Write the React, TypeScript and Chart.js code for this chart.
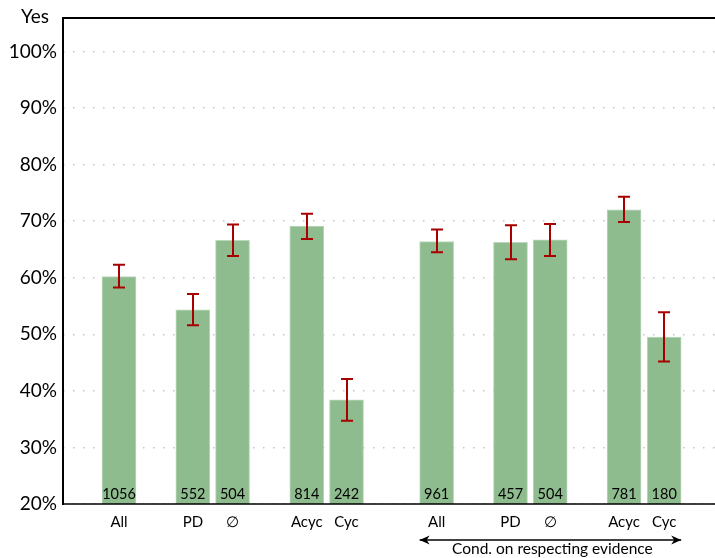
import { useEffect, useRef } from 'react';
import { Chart, registerables } from 'chart.js';

Chart.register(...registerables);

const categories = ['All', 'PD', '∅', 'Acyc', 'Cyc', 'All', 'PD', '∅', 'Acyc', 'Cyc'];
const positions = [0, 1.86, 2.86, 4.73, 5.73, 8.0, 9.86, 10.86, 12.72, 13.73];
const values = [60.2, 54.3, 66.6, 69.1, 38.4, 66.4, 66.25, 66.7, 72.0, 49.5];
const errLow = [58.25, 51.6, 63.85, 66.85, 34.7, 64.5, 63.25, 63.85, 69.85, 45.2];
const errHigh = [62.3, 57.1, 69.4, 71.3, 42.1, 68.5, 69.25, 69.5, 74.3, 53.9];
const counts = [1056, 552, 504, 814, 242, 961, 457, 504, 781, 180];
const yTicks = [20, 30, 40, 50, 60, 70, 80, 90, 100];
const yLabel = 'Yes';
const bracketLabel = 'Cond. on respecting evidence';
const bracketFrom = 5;
const bracketTo = 9;

const FONT = 'Lato, "DejaVu Sans", sans-serif';

const overlay = {
  id: 'overlay',
  afterDatasetsDraw(chart: any) {
    const { ctx, chartArea, scales } = chart;
    const x = scales.x;
    const y = scales.y;
    ctx.save();

    // error bars
    ctx.strokeStyle = '#a80000';
    ctx.lineWidth = 2;
    positions.forEach((p, i) => {
      const px = Math.round(x.getPixelForValue(p));
      const yt = y.getPixelForValue(errHigh[i]);
      const yb = y.getPixelForValue(errLow[i]);
      ctx.beginPath();
      ctx.moveTo(px, yt);
      ctx.lineTo(px, yb);
      ctx.moveTo(px - 6, yt);
      ctx.lineTo(px + 6, yt);
      ctx.moveTo(px - 6, yb);
      ctx.lineTo(px + 6, yb);
      ctx.stroke();
    });

    // counts inside bars
    ctx.fillStyle = '#000';
    ctx.font = '14.5px ' + FONT;
    ctx.textAlign = 'center';
    ctx.textBaseline = 'alphabetic';
    positions.forEach((p, i) => {
      ctx.fillText(String(counts[i]), x.getPixelForValue(p), chartArea.bottom - 5);
    });

    // axis lines
    ctx.strokeStyle = '#000';
    ctx.lineWidth = 2;
    ctx.beginPath();
    ctx.moveTo(chartArea.left, chartArea.bottom + 1);
    ctx.lineTo(chartArea.left, chartArea.top);
    ctx.lineTo(chartArea.right, chartArea.top);
    ctx.stroke();
    ctx.lineWidth = 1.5;
    ctx.beginPath();
    ctx.moveTo(chartArea.left, chartArea.bottom);
    ctx.lineTo(chartArea.right, chartArea.bottom);
    ctx.stroke();

    // y label
    ctx.font = '19px ' + FONT;
    ctx.textAlign = 'center';
    ctx.textBaseline = 'alphabetic';
    ctx.fillText(yLabel, 35, 23);

    // bracket arrow
    const xl = x.getPixelForValue(positions[bracketFrom]) - 17;
    const xr = x.getPixelForValue(positions[bracketTo]) + 17;
    const ay = 540;
    ctx.lineWidth = 1.3;
    ctx.beginPath();
    ctx.moveTo(xl, ay);
    ctx.lineTo(xr, ay);
    ctx.stroke();
    ctx.beginPath();
    ctx.moveTo(xl, ay);
    ctx.lineTo(xl + 10, ay - 4.5);
    ctx.lineTo(xl + 7, ay);
    ctx.lineTo(xl + 10, ay + 4.5);
    ctx.closePath();
    ctx.moveTo(xr, ay);
    ctx.lineTo(xr - 10, ay - 4.5);
    ctx.lineTo(xr - 7, ay);
    ctx.lineTo(xr - 10, ay + 4.5);
    ctx.closePath();
    ctx.fill();
    ctx.font = '15.5px ' + FONT;
    ctx.fillText(bracketLabel, (xl + xr) / 2 + 2, 554);

    ctx.restore();
  },
};

export default function App() {
  const ref = useRef<HTMLCanvasElement | null>(null);
  useEffect(() => {
    if (!ref.current) return;
    const chart = new Chart(ref.current, {
      type: 'bar',
      data: {
        datasets: [
          {
            data: positions.map((p, i) => ({ x: p, y: values[i] })),
            backgroundColor: '#8fbc8f',
            borderColor: '#bcd8bc',
            borderWidth: 1,
            barThickness: 34,
          },
        ],
      },
      options: {
        responsive: false,
        animation: false,
        devicePixelRatio: 1,
        layout: { padding: { top: 18, left: 0, right: 0, bottom: 0 } },
        plugins: { legend: { display: false }, tooltip: { enabled: false } },
        scales: {
          x: {
            type: 'linear',
            offset: false,
            min: -1.41,
            max: 15.01,
            grid: { display: false, drawTicks: false, offset: false },
            border: { display: false },
            afterBuildTicks: (scale: any) => {
              scale.ticks = positions.map((p) => ({ value: p }));
            },
            afterFit: (scale: any) => {
              scale.height = 54;
            },
            ticks: {
              autoSkip: false,
              maxRotation: 0,
              padding: 9,
              color: '#000',
              font: { family: 'Lato', size: 15 },
              callback: (v: any) => {
                const i = positions.indexOf(Number(v));
                return i >= 0 ? categories[i] : '';
              },
            },
          },
          y: {
            type: 'linear',
            min: 20,
            max: 105.9,
            grid: { color: '#c4c4c4', lineWidth: 1.5, drawTicks: false },
            border: { display: false, dash: [1.5, 8.5] },
            afterBuildTicks: (scale: any) => {
              scale.ticks = yTicks.map((v) => ({ value: v }));
            },
            afterFit: (scale: any) => {
              scale.width = 63;
            },
            ticks: {
              padding: 6,
              color: '#000',
              font: { family: 'Lato', size: 19 },
              callback: (v: any) => v + '%',
            },
          },
        },
      },
      plugins: [overlay],
    });
    return () => chart.destroy();
  }, []);
  return (
    <div style={{ position: 'fixed', left: 0, top: 0, width: 715, height: 558, background: '#fff' }}>
      <canvas ref={ref} width={715} height={558} />
    </div>
  );
}
